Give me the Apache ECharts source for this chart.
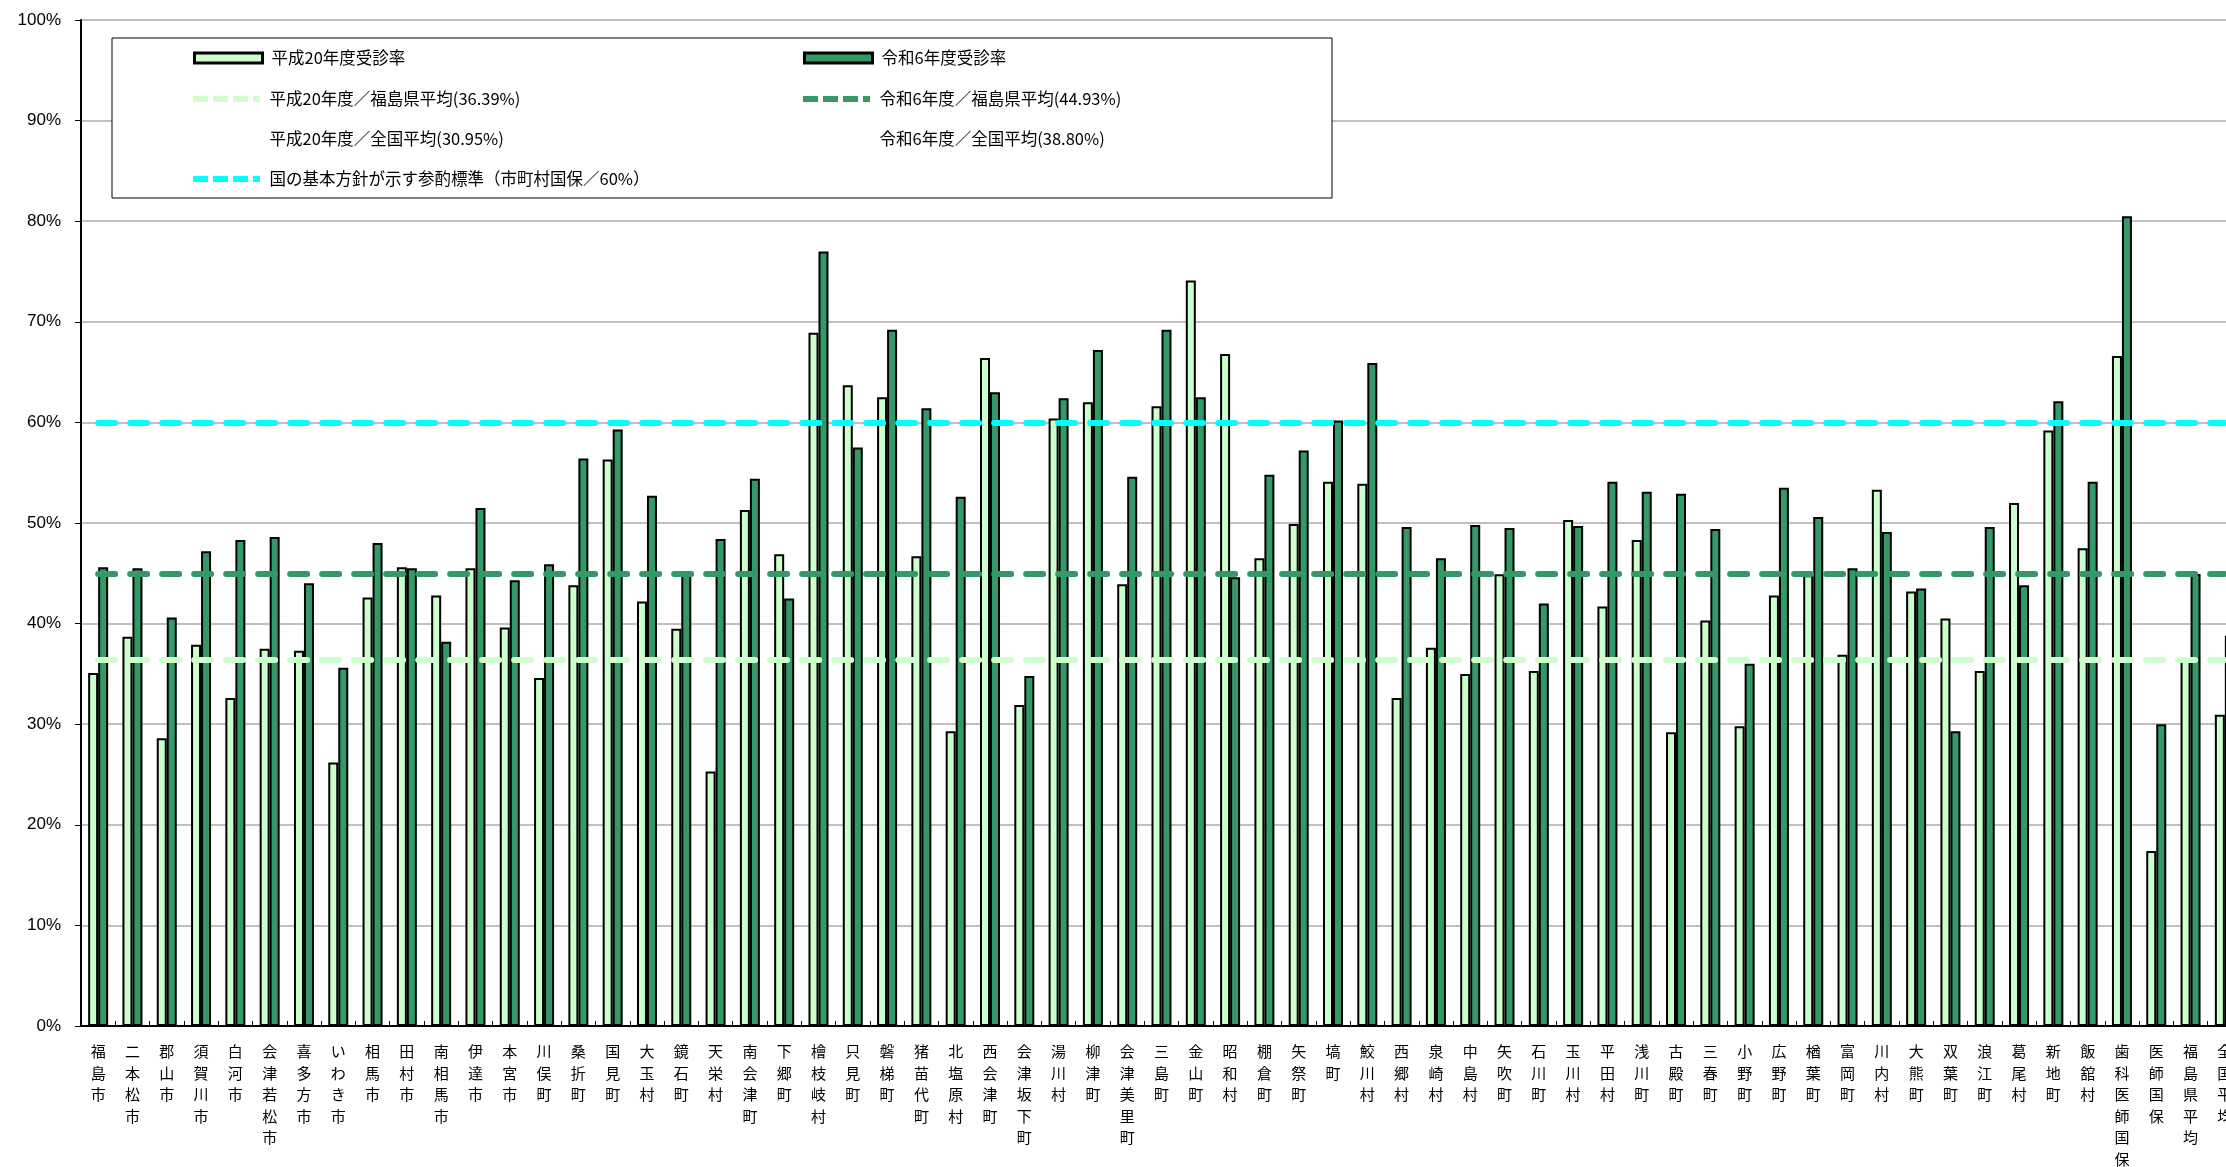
<!DOCTYPE html>
<html>
<head>
<meta charset="utf-8">
<script src="https://cdn.jsdelivr.net/npm/echarts@6/dist/echarts.min.js"></script>
<style>
  html, body { margin: 0; padding: 0; overflow: hidden; background: #fff; }
  #main { width: 2242px; height: 1167px; }
</style>
</head>
<body>
<div id="main"></div>
<script>
// 市町村名
var categories = [
  '福島市', '二本松市', '郡山市', '須賀川市', '白河市', '会津若松市', '喜多方市', 'いわき市', '相馬市', '田村市',
  '南相馬市', '伊達市', '本宮市', '川俣町', '桑折町', '国見町', '大玉村', '鏡石町', '天栄村', '南会津町',
  '下郷町', '檜枝岐村', '只見町', '磐梯町', '猪苗代町', '北塩原村', '西会津町', '会津坂下町', '湯川村', '柳津町',
  '会津美里町', '三島町', '金山町', '昭和村', '棚倉町', '矢祭町', '塙町', '鮫川村', '西郷村', '泉崎村',
  '中島村', '矢吹町', '石川町', '玉川村', '平田村', '浅川町', '古殿町', '三春町', '小野町', '広野町',
  '楢葉町', '富岡町', '川内村', '大熊町', '双葉町', '浪江町', '葛尾村', '新地町', '飯舘村', '歯科医師国保',
  '医師国保', '福島県平均', '全国平均'
];

// 平成20年度受診率
var rateH20 = [
  35.1, 38.7, 28.6, 37.9, 32.6, 37.5, 37.3, 26.2, 42.6, 45.6,
  42.8, 45.5, 39.6, 34.6, 43.8, 56.3, 42.2, 39.5, 25.3, 51.3,
  46.9, 68.9, 63.7, 62.5, 46.7, 29.3, 66.4, 31.9, 60.4, 62.0,
  43.9, 61.6, 74.1, 66.8, 46.5, 49.9, 54.1, 53.9, 32.6, 37.6,
  35.0, 44.9, 35.3, 50.3, 41.7, 48.3, 29.2, 40.3, 29.8, 42.8,
  44.8, 36.9, 53.3, 43.2, 40.5, 35.3, 52.0, 59.2, 47.5, 66.6,
  17.4, 36.39, 30.95
];

// 令和6年度受診率
var rateR6 = [
  45.6, 45.5, 40.6, 47.2, 48.3, 48.6, 44.0, 35.6, 48.0, 45.5,
  38.2, 51.5, 44.3, 45.9, 56.4, 59.3, 52.7, 44.9, 48.4, 54.4,
  42.5, 77.0, 57.5, 69.2, 61.4, 52.6, 63.0, 34.8, 62.4, 67.2,
  54.6, 69.2, 62.5, 44.6, 54.8, 57.2, 60.2, 65.9, 49.6, 46.5,
  49.8, 49.5, 42.0, 49.7, 54.1, 53.1, 52.9, 49.4, 36.0, 53.5,
  50.6, 45.5, 49.1, 43.5, 29.3, 49.6, 43.8, 62.1, 54.1, 80.5,
  30.0, 44.93, 38.80
];

// 平均・基準 [平成20年度, 令和6年度]
var avgPref = [36.39, 44.93];
var avgNation = [30.95, 38.80];
var targetRate = 60;

var yTicks = [0, 10, 20, 30, 40, 50, 60, 70, 80, 90, 100];

var LIGHT = '#CCFFCC';
var DARK = '#339966';
var CYAN = '#00FFFF';
var CJK = '"Noto Sans CJK JP", "Noto Sans", sans-serif';

var first = categories[0];
var last = categories[categories.length - 1];

function hLine(value, color, visible) {
  return {
    silent: true,
    symbol: ['none', 'none'],
    label: { show: false },
    emphasis: { disabled: true },
    lineStyle: {
      color: color,
      width: 6,
      type: [17, 15],
      cap: 'round',
      opacity: visible ? 1 : 0
    },
    data: [[{ coord: [first, value] }, { coord: [last, value] }]]
  };
}

var dashIcon = 'path://M0,0h15v6h-15z M20,0h15v6h-15z M40,0h15v6h-15z M60,0h7v6h-7z';

var names = {
  barH20: '平成20年度受診率',
  barR6: '令和6年度受診率',
  prefH20: '平成20年度／福島県平均(' + avgPref[0].toFixed(2) + '%)',
  prefR6: '令和6年度／福島県平均(' + avgPref[1].toFixed(2) + '%)',
  natH20: '平成20年度／全国平均(' + avgNation[0].toFixed(2) + '%)',
  natR6: '令和6年度／全国平均(' + avgNation[1].toFixed(2) + '%)',
  target: '国の基本方針が示す参酌標準（市町村国保／' + targetRate + '%）'
};

function legendAt(name, left, centerY, icon, h) {
  return {
    data: [{ name: name, icon: icon }],
    left: left,
    top: centerY - 11,
    padding: 0,
    itemWidth: 68,
    itemHeight: h,
    selectedMode: false,
    z: 20,
    itemStyle: icon === 'rect' ? { borderColor: '#000', borderWidth: 3 } : { borderWidth: 0 },
    textStyle: { fontFamily: CJK, fontSize: 16.5, color: '#000', lineHeight: 22, padding: [0, 0, 0, 4] }
  };
}

var chart = echarts.init(document.getElementById('main'));

chart.setOption({
  animation: false,
  backgroundColor: '#fff',
  grid: {
    left: 81, right: 0, top: 20, bottom: 141,
    outerBoundsMode: 'none',
    containLabel: false,
    show: true, borderColor: '#707070', borderWidth: 2
  },
  graphic: [{
    type: 'rect',
    z: 10,
    shape: { x: 112, y: 38, width: 1220, height: 160 },
    style: { fill: '#fff', stroke: '#000', lineWidth: 1 }
  }],
  legend: [
    legendAt(names.barH20, 193, 58, 'rect', 10),
    legendAt(names.barR6, 803, 58, 'rect', 10),
    legendAt(names.prefH20, 193, 99, dashIcon, 6),
    legendAt(names.prefR6, 803, 99, dashIcon, 6),
    legendAt(names.natH20, 193, 139, dashIcon, 6),
    legendAt(names.natR6, 803, 139, dashIcon, 6),
    legendAt(names.target, 193, 179, dashIcon, 6)
  ],
  xAxis: {
    type: 'category',
    data: categories,
    boundaryGap: true,
    axisLine: { lineStyle: { color: '#000', width: 2 } },
    axisTick: { show: true, inside: true, length: 5, lineStyle: { color: '#000', width: 1 } },
    axisLabel: {
      interval: 0,
      margin: 15,
      fontFamily: CJK,
      fontSize: 15,
      lineHeight: 21.5,
      color: '#000',
      formatter: function (v) { return v.split('').join('\n'); }
    }
  },
  yAxis: {
    type: 'value',
    min: yTicks[0],
    max: yTicks[yTicks.length - 1],
    interval: yTicks[1] - yTicks[0],
    axisLine: { show: true, lineStyle: { color: '#000', width: 2 } },
    axisTick: { show: true, length: 6, lineStyle: { color: '#000' } },
    splitLine: { lineStyle: { color: '#C0C0C0', width: 2 } },
    axisLabel: {
      margin: 20,
      fontFamily: '"Liberation Sans", Arial, sans-serif',
      fontSize: 17,
      color: '#000',
      formatter: '{value}%'
    }
  },
  series: [
    {
      name: names.barH20,
      type: 'bar',
      data: rateH20,
      barWidth: 10,
      barGap: '0%',
      itemStyle: { color: LIGHT, borderColor: '#000', borderWidth: 2 }
    },
    {
      name: names.barR6,
      type: 'bar',
      data: rateR6,
      barWidth: 10,
      barGap: '0%',
      itemStyle: { color: DARK, borderColor: '#000', borderWidth: 2 }
    },
    {
      name: names.prefH20, type: 'line', data: [], color: LIGHT,
      itemStyle: { color: LIGHT }, markLine: hLine(avgPref[0], LIGHT, true)
    },
    {
      name: names.prefR6, type: 'line', data: [], color: DARK,
      itemStyle: { color: DARK }, markLine: hLine(avgPref[1], DARK, true)
    },
    {
      name: names.natH20, type: 'line', data: [], color: 'rgba(255,255,255,0)',
      itemStyle: { color: 'rgba(255,255,255,0)' }, markLine: hLine(avgNation[0], '#fff', false)
    },
    {
      name: names.natR6, type: 'line', data: [], color: 'rgba(255,255,255,0)',
      itemStyle: { color: 'rgba(255,255,255,0)' }, markLine: hLine(avgNation[1], '#fff', false)
    },
    {
      name: names.target, type: 'line', data: [], color: CYAN,
      itemStyle: { color: CYAN }, markLine: hLine(targetRate, CYAN, true)
    }
  ]
});
</script>
</body>
</html>
